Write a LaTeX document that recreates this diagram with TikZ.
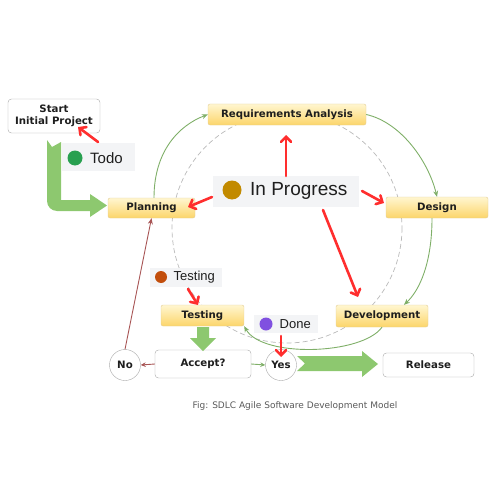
\documentclass[tikz,border=0pt]{standalone}
\usepackage{fontspec}
\setmainfont{DejaVu Sans}
\newfontfamily\lblfont{Liberation Sans}
\usetikzlibrary{arrows.meta,shapes.geometric}
\definecolor{ytop}{HTML}{FFF6D0}
\definecolor{ybot}{HTML}{FCD56A}
\definecolor{yborder}{HTML}{E2CC95}
\definecolor{gborder}{HTML}{A8A8A8}
\definecolor{biggreen}{HTML}{8DC86F}
\definecolor{linegreen}{HTML}{7FAF68}
\definecolor{noline}{HTML}{A85555}
\definecolor{redarrow}{HTML}{FF2E2E}
\definecolor{lblbg}{HTML}{F3F4F6}
\definecolor{txt}{HTML}{1E1E1E}
\begin{document}
\begin{tikzpicture}[x=1pt,y=-1pt,
  phase/.style={draw=yborder, rounded corners=2pt, top color=ytop, bottom color=ybot,
    font=\bfseries\fontsize{10.2}{11}\selectfont, text=txt, inner sep=0pt},
  plainbox/.style={draw=gborder, rounded corners=3.5pt, fill=white,
    font=\bfseries\fontsize{10.2}{12}\selectfont, text=txt, inner sep=0pt, align=center},
  decision/.style={circle, draw=gborder, fill=white, minimum size=31pt, inner sep=0pt,
    font=\bfseries\fontsize{10.2}{11}\selectfont, text=txt},
  lblbox/.style={fill=lblbg, inner sep=0pt},
  dot/.style={circle, inner sep=0pt},
  lbltext/.style={anchor=west, inner sep=0pt, text=txt},
  flow/.style={draw=linegreen, line width=0.9pt, -{Stealth[length=6pt,width=5pt]}},
  redarr/.style={draw=redarrow, line width=2.6pt, line cap=round,
    -{Straight Barb[length=5pt,width=10pt,line cap=round]}},
  bigarrow/.style={fill=biggreen}
]
\useasboundingbox (0,0) rectangle (500,500);

% dashed cycle circle
\draw[gray!55, line width=0.7pt, dash pattern=on 5pt off 3pt] (287,228) circle[radius=115];

% phase boxes
\node[phase, minimum width=158pt, minimum height=21pt] (req) at (287,114.5) {Requirements Analysis};
\node[phase, minimum width=87pt, minimum height=20pt] (plan) at (151.5,208) {Planning};
\node[phase, minimum width=102pt, minimum height=21pt] (design) at (437,207.5) {Design};
\node[phase, minimum width=92pt, minimum height=22pt] (dev) at (382,316) {Development};
\node[phase, minimum width=83pt, minimum height=21pt] (test) at (202.5,315.5) {Testing};

% plain boxes
\node[plainbox, minimum width=92pt, minimum height=34pt] (start) at (54,116) {Start\\Initial Project};
\node[plainbox, minimum width=96pt, minimum height=28pt] (accept) at (203,364) {Accept?};
\node[plainbox, minimum width=91pt, minimum height=24pt] (release) at (428.5,365) {Release};
\node[decision] (no) at (125,365) {No};
\node[decision] (yes) at (281,365) {Yes};

% green cycle flows
\draw[flow] (plan.north) ++(2.5,0) coordinate (p1) .. controls (154,150) and (180,125) .. (req.west);
\draw[flow] (req.east) .. controls (400,122) and (428,160) .. (design.north);
\draw[flow] (design.south) ++(-5,0) coordinate (d1) .. controls (432,262) and (420,290) .. (dev.27);
\draw[flow] (dev.south) .. controls (362,355) and (262,358) .. (test.south east);
\draw[flow, -{Stealth[length=5pt,width=4.5pt]}] (accept.east) -- (yes.west);
\draw[draw=noline, line width=0.9pt, -{Stealth[length=5pt,width=4.5pt]}] (accept.west) -- (no.east);
\draw[draw=noline, line width=0.9pt, -{Stealth[length=6pt,width=5pt]}] (no.north) -- (plan.south);

% big green arrows
\fill[bigarrow] (47,140) -- (52,147) -- (61,142) -- (61,200) -- (90,200) -- (90,194)
  -- (107,205.5) -- (90,217) -- (90,211) -- (57,211)
  .. controls (51.5,211) and (47,206.5) .. (47,201) -- cycle;
\fill[bigarrow] (197,327) -- (209,327) -- (209,338) -- (216,338) -- (203,351)
  -- (190,338) -- (197,338) -- cycle;
\fill[bigarrow] (297,356) -- (362,356) -- (362,351) -- (378,364) -- (362,377)
  -- (362,371) -- (297,371) -- (305,363.5) -- cycle;

% labels
\node[lblbox, minimum width=73pt, minimum height=28pt] (todobg) at (98.5,157) {};
\node[dot, fill={rgb,255:red,40;green,160;blue,80}, minimum size=15pt] (tododot) at (75,158) {};
\node[lbltext, font=\lblfont\fontsize{15}{17}\selectfont] (todotxt) at (90,158) {Todo};

\node[lblbox, minimum width=146pt, minimum height=31pt] (ipbg) at (286,191.5) {};
\node[dot, fill={rgb,255:red,194;green,138;blue,0}, minimum size=19pt] (ipdot) at (232,190) {};
\node[lbltext, font=\lblfont\fontsize{19}{21}\selectfont] (iptxt) at (250,191) {In Progress};

\node[lblbox, minimum width=72pt, minimum height=19pt] (tsbg) at (186,277.5) {};
\node[dot, fill={rgb,255:red,194;green,78;blue,12}, minimum size=12pt] (tsdot) at (161,277) {};
\node[lbltext, font=\lblfont\fontsize{13}{15}\selectfont] (tstxt) at (173.5,277.5) {Testing};

\node[lblbox, minimum width=64pt, minimum height=18pt] (dnbg) at (286,324) {};
\node[dot, fill={rgb,255:red,128;green,80;blue,224}, minimum size=13pt] (dndot) at (266,324) {};
\node[lbltext, font=\lblfont\fontsize{13}{15}\selectfont] (dntxt) at (279.5,324.5) {Done};

% red annotation arrows
\coordinate (r1s) at (98,142); \coordinate (r1e) at (78,127);
\coordinate (r2s) at (212,197); \coordinate (r2e) at (188,207);
\coordinate (r3s) at (286,176); \coordinate (r3e) at (286,135);
\coordinate (r4s) at (362,191); \coordinate (r4e) at (384,203);
\coordinate (r5s) at (323,210); \coordinate (r5e) at (358,297);
\coordinate (r6s) at (188,289); \coordinate (r6e) at (198,305);
\coordinate (r7s) at (281,336); \coordinate (r7e) at (281,357);
\draw[redarr] (r1s) -- (r1e);
\draw[redarr] (r2s) -- (r2e);
\draw[redarr] (r3s) -- (r3e);
\draw[redarr] (r4s) -- (r4e);
\draw[redarr] (r5s) -- (r5e);
\draw[redarr] (r6s) -- (r6e);
\draw[redarr] (r7s) -- (r7e);

% caption
\node[font=\fontsize{9}{10}\selectfont, text=black!65, inner sep=0pt] (caption) at (295,406) {Fig: SDLC Agile Software Development Model};
\end{tikzpicture}
\end{document}
